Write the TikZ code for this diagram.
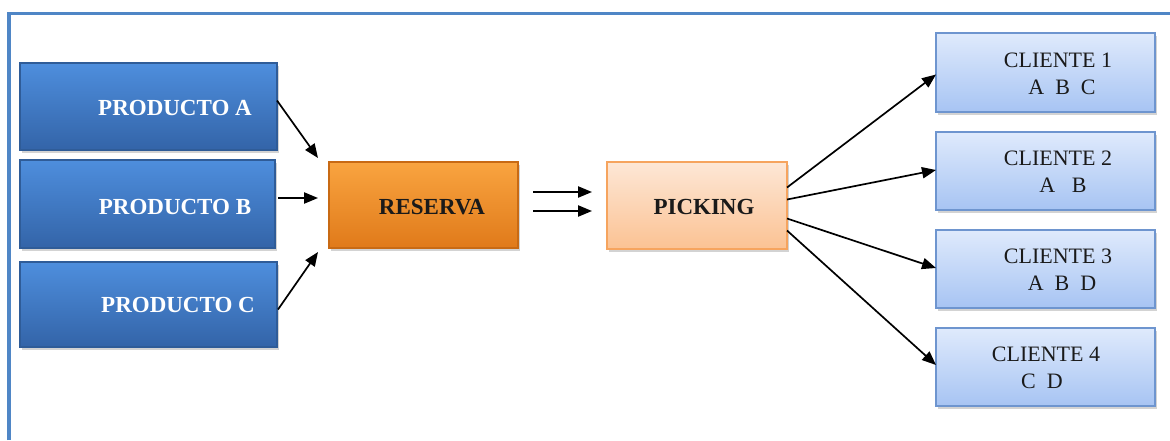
\documentclass[tikz,border=0pt]{standalone}
\usepackage{fontspec}
\setmainfont{Liberation Serif}
\usetikzlibrary{shadows,arrows.meta,calc}
\definecolor{frameblue}{HTML}{4F86C6}
\definecolor{prodtop}{HTML}{4E8EDD}
\definecolor{prodbot}{HTML}{3364A8}
\definecolor{prodline}{HTML}{2F5C98}
\definecolor{restop}{HTML}{F9A440}
\definecolor{resbot}{HTML}{E07A1A}
\definecolor{resline}{HTML}{C86A14}
\definecolor{picktop}{HTML}{FDE7D6}
\definecolor{pickbot}{HTML}{FBC293}
\definecolor{pickline}{HTML}{F6A45E}
\definecolor{clitop}{HTML}{DFEAFC}
\definecolor{clibot}{HTML}{A7C4F3}
\definecolor{cliline}{HTML}{6E95CF}
\definecolor{txt}{HTML}{1A1A1A}
\begin{document}
\begin{tikzpicture}[x=0.5pt,y=-0.5pt,
  box/.style={rectangle, inner sep=0pt, outer sep=0pt, line width=0.6pt,
    drop shadow={opacity=0.35, shadow xshift=1.2pt, shadow yshift=-1.5pt}},
  prod/.style={box, draw=prodline, top color=prodtop, bottom color=prodbot},
  res/.style={box, draw=resline, top color=restop, bottom color=resbot},
  pick/.style={box, draw=pickline, top color=picktop, bottom color=pickbot},
  cli/.style={box, draw=cliline, top color=clitop, bottom color=clibot},
  btxt/.style={font=\fontsize{11.5}{13}\selectfont\bfseries, inner sep=0pt},
  ctxt/.style={font=\fontsize{11}{13.5}\selectfont, text=txt, inner sep=0pt, align=center},
  arr/.style={line width=0.85pt, -{Triangle[length=7pt,width=5.6pt]}}
]
\useasboundingbox (0,0) rectangle (1170,440);
% frame
\draw[frameblue, line width=1.6pt] (9,440) -- (9,13.5) -- (1170,13.5);

% product boxes
\node[prod, minimum width=128.5pt, minimum height=43.5pt] (pa) at (148.5,106.5) {};
\node[prod, minimum width=127.5pt, minimum height=44pt] (pb) at (147.5,204) {};
\node[prod, minimum width=128.5pt, minimum height=42.5pt] (pc) at (148.5,304.5) {};
\node[btxt, text=white] (pat) at (175,108) {PRODUCTO A};
\node[btxt, text=white] (pbt) at (175,207) {PRODUCTO B};
\node[btxt, text=white] (pct) at (178,305) {PRODUCTO C};

% reserva and picking
\node[res, minimum width=94.5pt, minimum height=43pt] (res) at (423.5,205) {};
\node[btxt, text=txt] (rest) at (432,207) {RESERVA};
\node[pick, minimum width=90pt, minimum height=43.5pt] (pick) at (697,205.5) {};
\node[btxt, text=txt] (pickt) at (704,207) {PICKING};

% clients
\node[cli, minimum width=109.5pt, minimum height=39.5pt] (c1) at (1045.5,72.5) {};
\node[cli, minimum width=109.5pt, minimum height=39pt] (c2) at (1045.5,171) {};
\node[cli, minimum width=109.5pt, minimum height=39pt] (c3) at (1045.5,269) {};
\node[cli, minimum width=109.5pt, minimum height=39pt] (c4) at (1045.5,367) {};
\node[ctxt] (c1a) at (1058,60) {CLIENTE 1};
\node[ctxt] (c1b) at (1062,87) {A\ \ B\ \ C};
\node[ctxt] (c2a) at (1058,158) {CLIENTE 2};
\node[ctxt] (c2b) at (1063,185) {A\ \ \ B};
\node[ctxt] (c3a) at (1058,256) {CLIENTE 3};
\node[ctxt] (c3b) at (1062,283) {A\ \ B\ \ D};
\node[ctxt] (c4a) at (1046,354) {CLIENTE 4};
\node[ctxt] (c4b) at (1042,381) {C\ \ D};

% arrows into reserva
\draw[arr] ($(pa.east)+(0,-6)$) -- ($(res.north west)+(-11,-4)$);
\draw[arr] ($(pb.east)+(3,-6)$) -- ($(res.west)+(-11,-7)$);
\draw[arr] ($(pc.east)+(1,5)$) -- ($(res.south west)+(-11,4)$);

% reserva to picking
\draw[arr] ($(res.east)+(15,-13)$) -- ($(pick.west)+(-15,-13.5)$);
\draw[arr] ($(res.east)+(15,6)$) -- ($(pick.west)+(-15,5.5)$);

% picking to clients
\draw[arr] ($(pick.east)+(0,-18)$) -- ($(c1.west)+(0,2)$);
\draw[arr] ($(pick.east)+(0,-6)$) -- ($(c2.west)+(0,-1)$);
\draw[arr] ($(pick.east)+(0,13)$) -- ($(c3.west)+(0,-1)$);
\draw[arr] ($(pick.east)+(0,25)$) -- ($(c4.west)+(0,-2)$);
\end{tikzpicture}
\end{document}
